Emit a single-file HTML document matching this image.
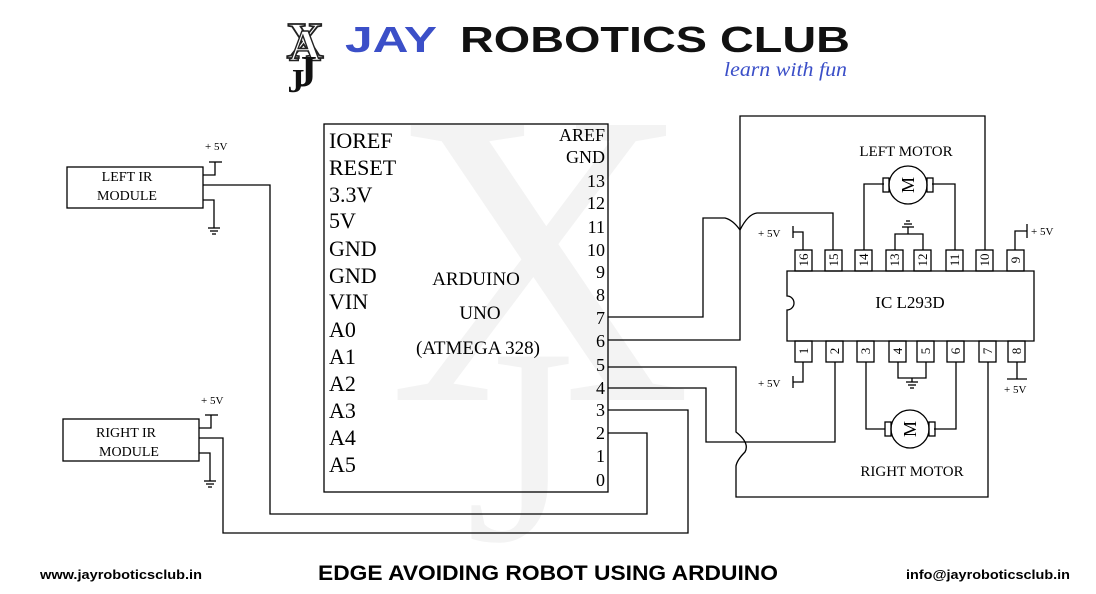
<!DOCTYPE html>
<html><head><meta charset="utf-8"><style>html,body{margin:0;padding:0;background:#fff;width:1096px;height:594px;overflow:hidden}svg{display:block}</style></head><body>
<svg width="1096" height="594" viewBox="0 0 1096 594" xmlns="http://www.w3.org/2000/svg" font-family="Liberation Serif, serif" overflow="hidden">
<g>
<text x="540" y="400" font-size="420" text-anchor="middle" font-family="Liberation Serif" fill="#f3f3f3">X</text>
<text x="520" y="540" font-size="280" text-anchor="middle" font-family="Liberation Serif" fill="#f3f3f3">J</text>
</g>
<g font-family="Liberation Serif" font-weight="bold" text-anchor="middle">
<text x="305" y="58" font-size="52" fill="#fff" stroke="#222" stroke-width="1.8">X</text>
<text x="305" y="60" font-size="44" fill="#fff" stroke="#222" stroke-width="1.4">A</text>
<text x="306" y="86" font-size="44" fill="#111">J</text>
<text x="296" y="92" font-size="34" fill="#111">J</text>
</g>
<text x="345" y="52" font-family="Liberation Sans" font-weight="bold" font-size="36" fill="#3b4fc8" textLength="92" lengthAdjust="spacingAndGlyphs">JAY</text>
<text x="460" y="52" font-family="Liberation Sans" font-weight="bold" font-size="36" fill="#111" textLength="390" lengthAdjust="spacingAndGlyphs">ROBOTICS CLUB</text>
<text x="724" y="76" font-family="Liberation Serif" font-style="italic" font-size="20" fill="#3b4fc8" textLength="123" lengthAdjust="spacingAndGlyphs">learn with fun</text>

<g stroke="#000" stroke-width="1.3" fill="none">
<rect x="324" y="124" width="284" height="368"/>
<rect x="67" y="167" width="136" height="41"/>
<polyline points="203,175 215,175 215,162"/><line x1="209" y1="162" x2="222" y2="162"/>
<polyline points="203,185 270,185 270,514 647,514 647,433 608,433"/>
<polyline points="203,200 214,200 214,228"/>
<line x1="208" y1="228" x2="220" y2="228"/><line x1="210" y1="231" x2="218" y2="231"/><line x1="212" y1="234" x2="216" y2="234"/>
<rect x="63" y="419" width="136" height="42"/>
<polyline points="199,428 211,428 211,415"/><line x1="205" y1="415" x2="218" y2="415"/>
<polyline points="199,438 223,438 223,533 688,533 688,410 608,410"/>
<polyline points="199,453 210,453 210,481"/>
<line x1="204" y1="481" x2="216" y2="481"/><line x1="206" y1="484" x2="214" y2="484"/><line x1="208" y1="487" x2="212" y2="487"/>
<path d="M608,317 L703,317 L703,218 L725,218 Q733,220 740,230 Q748,214 757,213 L833,213 L833,250"/>
<polyline points="608,340 740,340 740,116 985,116 985,250"/>
<path d="M608,367 L736,367 L736,432 Q750,443 745,452 Q737,460 736,466 L736,497 L988,497 L988,362"/>
<polyline points="608,388 706,388 706,442 835,442 835,362"/>
<path d="M787,271 H1034 V341 H787 V310 A7,7 0 0 0 787,296 Z"/>
<g>
<rect x="795" y="250" width="17" height="21"/><rect x="825" y="250" width="17" height="21"/><rect x="855" y="250" width="17" height="21"/><rect x="886" y="250" width="17" height="21"/><rect x="914" y="250" width="17" height="21"/><rect x="946" y="250" width="17" height="21"/><rect x="976" y="250" width="17" height="21"/><rect x="1007" y="250" width="17" height="21"/>
<rect x="795" y="341" width="17" height="21"/><rect x="826" y="341" width="17" height="21"/><rect x="857" y="341" width="17" height="21"/><rect x="889" y="341" width="17" height="21"/><rect x="917" y="341" width="17" height="21"/><rect x="947" y="341" width="17" height="21"/><rect x="979" y="341" width="17" height="21"/><rect x="1008" y="341" width="17" height="21"/>
</g>
<polyline points="803,250 803,232 793,232"/><line x1="793" y1="226" x2="793" y2="238"/>
<polyline points="864,250 864,184 884,184"/>
<polyline points="955,250 955,184 932,184"/>
<polyline points="895,250 895,234 923,234 923,250"/><line x1="908" y1="234" x2="908" y2="227"/>
<line x1="902" y1="227" x2="914" y2="227"/><line x1="904" y1="224" x2="912" y2="224"/><line x1="906" y1="221" x2="910" y2="221"/>
<polyline points="1015,250 1015,231 1027,231"/><line x1="1027" y1="224" x2="1027" y2="238"/>
<polyline points="803,362 803,382 793,382"/><line x1="793" y1="376" x2="793" y2="388"/>
<polyline points="898,362 898,378 926,378 926,362"/><line x1="912" y1="378" x2="912" y2="382"/>
<line x1="906" y1="382" x2="918" y2="382"/><line x1="908" y1="385" x2="916" y2="385"/><line x1="910" y1="388" x2="914" y2="388"/>
<polyline points="866,362 866,429 885,429"/>
<polyline points="956,362 956,429 934,429"/>
<polyline points="1017,362 1017,379"/><line x1="1007" y1="379" x2="1027" y2="379"/>
<circle cx="908" cy="185" r="19"/><rect x="883" y="178" width="6" height="14"/><rect x="927" y="178" width="6" height="14"/>
<circle cx="910" cy="429" r="19"/><rect x="885" y="422" width="6" height="14"/><rect x="929" y="422" width="6" height="14"/>
</g>

<g fill="#000" font-size="13" text-anchor="middle">
<text transform="translate(808,260) rotate(-90)">16</text>
<text transform="translate(838,260) rotate(-90)">15</text>
<text transform="translate(868,260) rotate(-90)">14</text>
<text transform="translate(899,260) rotate(-90)">13</text>
<text transform="translate(927,260) rotate(-90)">12</text>
<text transform="translate(959,260) rotate(-90)">11</text>
<text transform="translate(989,260) rotate(-90)">10</text>
<text transform="translate(1020,260) rotate(-90)">9</text>
<text transform="translate(808,351) rotate(-90)">1</text>
<text transform="translate(839,351) rotate(-90)">2</text>
<text transform="translate(870,351) rotate(-90)">3</text>
<text transform="translate(902,351) rotate(-90)">4</text>
<text transform="translate(930,351) rotate(-90)">5</text>
<text transform="translate(960,351) rotate(-90)">6</text>
<text transform="translate(992,351) rotate(-90)">7</text>
<text transform="translate(1021,351) rotate(-90)">8</text>
<text transform="translate(914,185) rotate(-90)" font-size="18">M</text>
<text transform="translate(916,429) rotate(-90)" font-size="18">M</text>
</g>
<g fill="#000" font-size="11">
<text x="758" y="237">+ 5V</text><text x="758" y="387">+ 5V</text>
<text x="1031" y="235">+ 5V</text><text x="1004" y="393">+ 5V</text>
<text x="205" y="150">+ 5V</text><text x="201" y="404">+ 5V</text>
</g>
<g fill="#000" font-size="15" text-anchor="middle">
<text x="906" y="156">LEFT MOTOR</text>
<text x="912" y="476">RIGHT MOTOR</text>
<text x="910" y="308" font-size="17">IC L293D</text>
<text x="127" y="181" font-size="14">LEFT IR</text>
<text x="127" y="200" font-size="14">MODULE</text>
<text x="126" y="437" font-size="14">RIGHT IR</text>
<text x="129" y="456" font-size="14">MODULE</text>
<text x="476" y="285" font-size="19">ARDUINO</text>
<text x="480" y="319" font-size="19">UNO</text>
<text x="478" y="354" font-size="19">(ATMEGA 328)</text>
</g>
<g fill="#000" font-size="22">
<text x="329" y="148">IOREF</text><text x="329" y="175">RESET</text><text x="329" y="202">3.3V</text><text x="329" y="228">5V</text>
<text x="329" y="256">GND</text><text x="329" y="283">GND</text><text x="329" y="309">VIN</text><text x="329" y="337">A0</text>
<text x="329" y="364">A1</text><text x="329" y="391">A2</text><text x="329" y="418">A3</text><text x="329" y="445">A4</text><text x="329" y="472">A5</text>
</g>
<g fill="#000" font-size="18" text-anchor="end">
<text x="605" y="141">AREF</text><text x="605" y="163">GND</text><text x="605" y="187">13</text><text x="605" y="209">12</text>
<text x="605" y="233">11</text><text x="605" y="256">10</text><text x="605" y="278">9</text><text x="605" y="301">8</text>
<text x="605" y="324">7</text><text x="605" y="347">6</text><text x="605" y="371">5</text><text x="605" y="394">4</text>
<text x="605" y="416">3</text><text x="605" y="439">2</text><text x="605" y="462">1</text><text x="605" y="486">0</text>
</g>
<g font-family="Liberation Sans" font-weight="bold" fill="#000">
<text x="40" y="579" font-size="13" textLength="162" lengthAdjust="spacingAndGlyphs">www.jayroboticsclub.in</text>
<text x="318" y="580" font-size="21" textLength="460" lengthAdjust="spacingAndGlyphs">EDGE AVOIDING ROBOT USING ARDUINO</text>
<text x="906" y="579" font-size="13" textLength="164" lengthAdjust="spacingAndGlyphs">info@jayroboticsclub.in</text>
</g>
</svg>
</body></html>
